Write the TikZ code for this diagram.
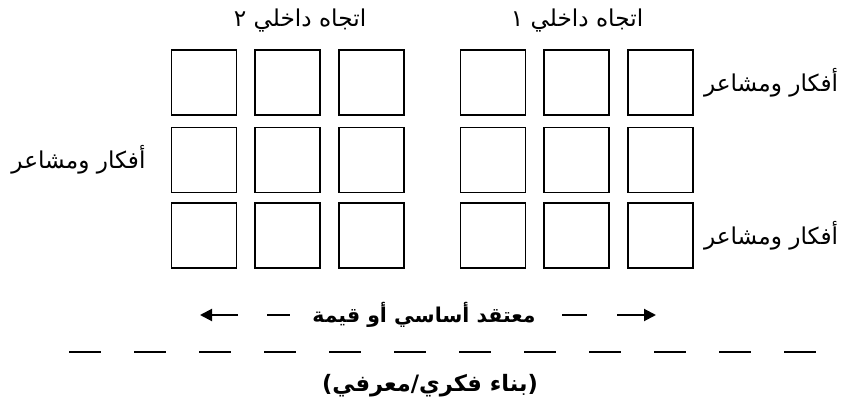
\documentclass[tikz,border=0pt]{standalone}
\usepackage{fontspec}
\newfontfamily\arabicfont[Script=Arabic]{DejaVu Sans}
\TeXXeTstate=1
\usetikzlibrary{arrows.meta, positioning}

\begin{document}
\begin{tikzpicture}[
    x=0.5pt, y=-0.5pt,
    cell/.style={rectangle, draw, line width=0.6pt, minimum width=32.5pt, minimum height=32.5pt, inner sep=0pt},
    title/.style={font=\arabicfont\fontsize{11.6}{13}\selectfont, inner sep=0pt},
    feeling/.style={font=\arabicfont\fontsize{11.6}{13}\selectfont, inner sep=0pt},
    core/.style={font=\arabicfont\bfseries\fontsize{10.2}{12}\selectfont, inner sep=0pt},
    arrow/.style={-{Triangle[length=6pt, width=6pt]}, line width=1pt},
]
    \useasboundingbox (0,0) rectangle (848,401);

    % Two blocks of cells
    \foreach \r/\y in {1/82.5, 2/160, 3/235.5} {
        \foreach \c/\x in {1/204, 2/287.5, 3/371.5}
            \node[cell] (a\r\c) at (\x,\y) {};
        \foreach \c/\x in {1/493, 2/576.5, 3/660.5}
            \node[cell] (b\r\c) at (\x,\y) {};
    }

    % Headings
    \node[title] (dir2) at (300,21) {\beginR اتجاه داخلي ٢\endR};
    \node[title] (dir1) at (577,21) {\beginR اتجاه داخلي ١\endR};

    % Side labels
    \node[feeling, right=5pt of b13] (feel1) {\beginR أفكار ومشاعر\endR};
    \node[feeling, right=5pt of b33] (feel3) {\beginR أفكار ومشاعر\endR};
    \node[feeling, left=12.5pt of a21] (feel2) {\beginR أفكار ومشاعر\endR};

    % Core belief with arrows
    \node[core] (belief) at (424,315) {\beginR معتقد أساسي أو قيمة\endR};
    \draw[line width=1pt] (267,315) -- (290,315);
    \draw[line width=1pt] (562,315) -- (587,315);
    \coordinate (ltail) at (238,315);
    \coordinate (ltip) at (200,315);
    \coordinate (rtail) at (617,315);
    \coordinate (rtip) at (656,315);
    \draw[arrow] (ltail) -- (ltip);
    \draw[arrow] (rtail) -- (rtip);

    % Dashed base line
    \draw[line width=0.9pt, dash pattern=on 16pt off 16.5pt] (69,352) -- (817,352);

    \node[core, font=\arabicfont\bfseries\fontsize{11.3}{13}\selectfont] (frame) at (430,386) {\beginR(بناء فكري/معرفي)\endR};
\end{tikzpicture}
\end{document}
